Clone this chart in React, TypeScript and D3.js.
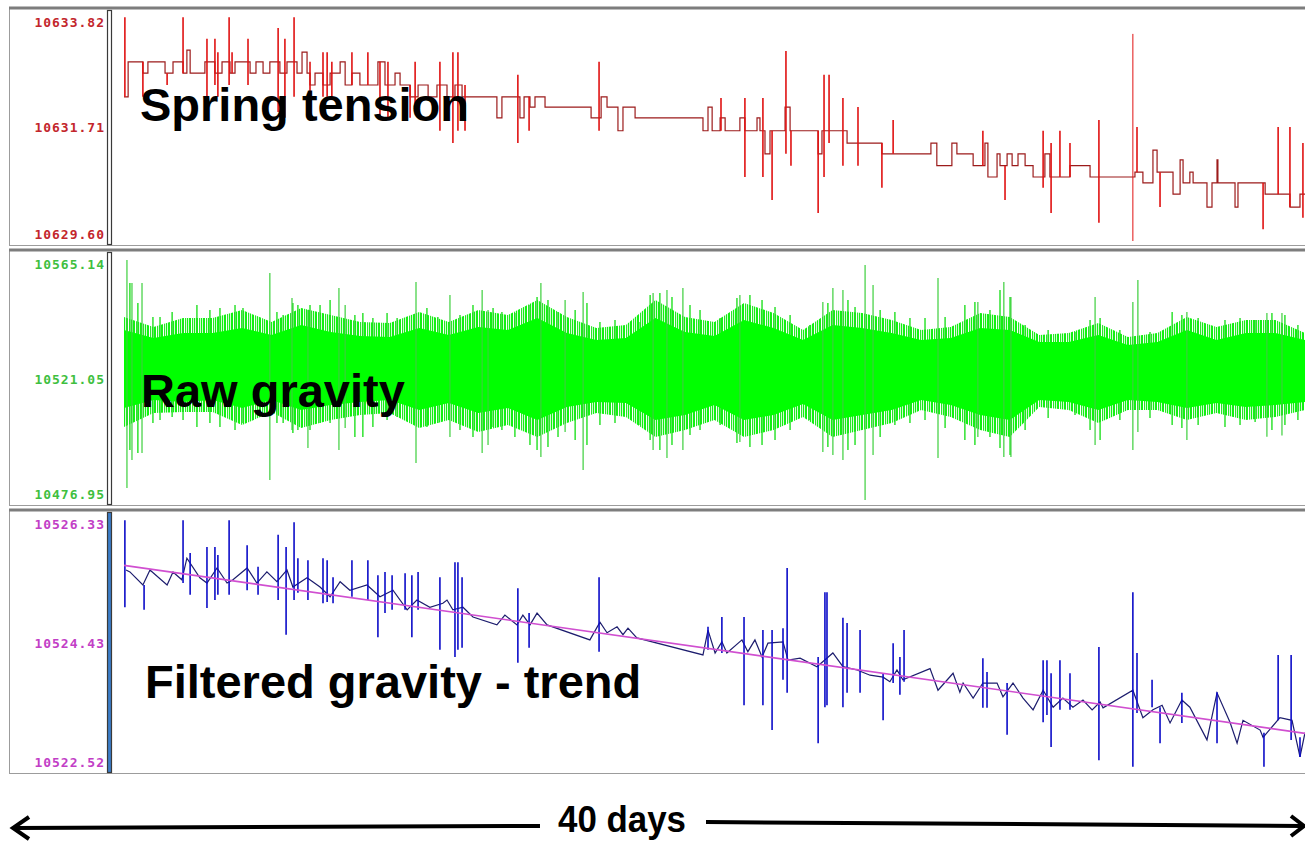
import React from 'react';
import * as d3 from 'd3';

const WIDTH = 1305;
const HEIGHT = 842;

// recording length in days
const dayDomain: [number, number] = [0, 40];

// axis labels of each strip: bottom, middle, top
const tensionTicks = [10629.60, 10631.71, 10633.82];
const rawTicks = [10476.95, 10521.05, 10565.14];
const filteredTicks = [10522.52, 10524.43, 10526.33];

// spring tension: [day, value] held until the next entry
const tensionSteps: [number, number][] = [
  [0.00, 10632.28], [0.14, 10632.93], [0.64, 10632.72], [0.81, 10632.93], [1.39, 10632.72],
  [1.66, 10632.93], [2.00, 10632.72], [2.13, 10633.15], [2.24, 10632.72], [2.74, 10632.93],
  [3.08, 10632.72], [3.32, 10632.93], [3.59, 10632.72], [3.76, 10632.93], [4.27, 10632.72],
  [4.47, 10632.93], [4.71, 10632.72], [4.94, 10632.93], [5.28, 10632.72], [5.52, 10632.93],
  [5.86, 10632.72], [6.03, 10633.11], [6.20, 10632.72], [6.30, 10632.50], [6.47, 10632.72],
  [6.74, 10632.50], [6.98, 10632.72], [7.32, 10632.93], [7.49, 10632.50], [7.72, 10632.72],
  [7.99, 10632.50], [8.60, 10632.93], [8.84, 10632.50], [9.18, 10632.72], [9.35, 10632.50],
  [9.69, 10632.28], [9.96, 10632.50], [10.30, 10632.28], [10.60, 10632.50], [10.94, 10632.28],
  [11.21, 10632.50], [11.45, 10632.28], [12.63, 10631.89], [12.80, 10632.28], [13.41, 10631.89],
  [13.55, 10632.28], [13.75, 10632.09], [13.92, 10632.28], [14.26, 10632.09], [15.82, 10631.89],
  [16.16, 10632.28], [16.36, 10632.09], [16.73, 10631.65], [16.90, 10632.09], [17.31, 10631.89],
  [19.61, 10631.65], [19.78, 10632.09], [19.92, 10631.65], [20.19, 10631.89], [20.36, 10631.65],
  [20.86, 10631.89], [21.03, 10631.65], [21.44, 10631.89], [21.54, 10631.65], [21.71, 10631.22],
  [21.88, 10631.65], [22.39, 10632.09], [22.56, 10631.65], [23.51, 10631.22], [23.64, 10631.65],
  [24.49, 10631.42], [25.67, 10631.22], [27.33, 10631.42], [27.53, 10631.00], [28.04, 10631.42],
  [28.21, 10631.22], [28.76, 10631.00], [29.16, 10631.42], [29.26, 10630.79], [29.57, 10631.22],
  [29.67, 10631.00], [29.91, 10631.22], [30.08, 10631.00], [30.28, 10631.22], [30.52, 10631.00],
  [30.79, 10630.79], [31.19, 10631.22], [31.36, 10630.79], [32.04, 10631.00], [32.72, 10630.79],
  [34.24, 10630.88], [34.51, 10630.68], [34.85, 10631.29], [34.99, 10630.88], [35.53, 10630.47],
  [35.77, 10631.11], [35.87, 10630.68], [36.10, 10630.88], [36.21, 10630.68], [36.68, 10630.23],
  [36.85, 10630.68], [37.02, 10631.11], [37.05, 10630.68], [37.63, 10630.23], [37.73, 10630.68],
  [38.65, 10630.47], [39.49, 10630.23], [39.83, 10630.47], [40.00, 10630.47],
];

// spring tension single-sample spikes: [day, high, low]
const tensionSpikes: [number, number, number][] = [
  [0.03, 10633.76, 10632.28], [0.64, 10632.93, 10632.28], [1.46, 10632.72, 10632.50],
  [2.00, 10633.76, 10632.72], [2.81, 10633.36, 10632.09], [3.08, 10633.36, 10632.50],
  [3.18, 10633.11, 10632.28], [3.56, 10633.76, 10632.50], [3.66, 10633.11, 10632.72],
  [4.20, 10633.36, 10632.50], [5.22, 10633.56, 10632.00], [5.45, 10633.36, 10631.89],
  [5.76, 10633.76, 10632.28], [6.30, 10632.93, 10632.28], [6.74, 10633.11, 10632.28],
  [6.88, 10633.11, 10632.28], [7.04, 10632.93, 10632.28], [7.72, 10633.11, 10632.50],
  [8.26, 10633.11, 10632.50], [8.67, 10632.93, 10631.89], [8.94, 10632.93, 10631.89],
  [9.69, 10632.50, 10631.89], [9.86, 10632.93, 10632.09], [10.70, 10632.93, 10631.65],
  [11.14, 10633.11, 10631.42], [11.31, 10633.11, 10631.65], [11.55, 10632.50, 10631.65],
  [13.34, 10632.69, 10631.42], [13.72, 10632.28, 10631.65], [16.09, 10632.93, 10631.65],
  [20.22, 10632.26, 10631.65], [21.03, 10632.26, 10630.79], [21.64, 10632.26, 10630.79],
  [21.95, 10631.65, 10630.36], [22.42, 10633.13, 10631.22], [22.59, 10631.65, 10631.00],
  [23.51, 10631.65, 10630.12], [23.71, 10632.69, 10630.79], [23.88, 10632.69, 10631.42],
  [24.35, 10632.26, 10631.00], [24.86, 10632.09, 10631.00], [25.67, 10631.42, 10630.59],
  [26.05, 10631.85, 10631.22], [29.09, 10631.65, 10631.00], [29.84, 10631.00, 10630.36],
  [31.13, 10631.65, 10630.59], [31.40, 10631.42, 10630.12], [31.70, 10631.65, 10630.79],
  [32.04, 10631.42, 10630.79], [33.02, 10631.85, 10629.94], [34.17, 10633.45, 10629.60],
  [34.31, 10631.72, 10630.88], [35.09, 10630.88, 10630.23], [38.58, 10630.68, 10629.82],
  [39.09, 10631.72, 10630.47], [39.49, 10631.72, 10630.23], [39.93, 10631.42, 10630.03],
];

// raw gravity, read once per day: outer envelope and dense core
const rawDays = [
  0, 1, 2, 3, 4, 5, 6, 7, 8, 9, 10, 11, 12, 13, 14, 15, 16, 17, 18, 19, 20,
  21, 22, 23, 24, 25, 26, 27, 28, 29, 30, 31, 32, 33, 34, 35, 36, 37, 38, 39, 40,
];
const rawEnvTop = [
  10543.64, 10539.99, 10543.27, 10543.27, 10546.19, 10541.82, 10546.92, 10544.37, 10541.82, 10541.45,
  10545.46, 10541.82, 10546.19, 10544.37, 10549.83, 10543.64, 10539.63, 10540.72, 10549.83, 10543.64,
  10541.82, 10548.74, 10545.10, 10538.90, 10546.19, 10545.10, 10542.55, 10538.90, 10539.99, 10545.10,
  10543.64, 10537.08, 10537.81, 10541.45, 10536.35, 10537.81, 10543.64, 10539.99, 10542.55, 10542.55,
  10537.81,
];
const rawEnvBottom = [
  10503.55, 10508.65, 10509.02, 10509.02, 10504.28, 10509.02, 10503.19, 10506.10, 10507.93, 10508.65,
  10503.19, 10506.10, 10501.73, 10504.28, 10499.91, 10505.01, 10508.65, 10507.20, 10499.91, 10502.46,
  10506.10, 10499.91, 10502.46, 10507.20, 10499.91, 10502.46, 10505.01, 10509.75, 10507.20, 10502.46,
  10499.91, 10510.84, 10509.75, 10505.01, 10509.75, 10509.75, 10506.10, 10508.65, 10506.10, 10507.20,
  10509.75,
];
const rawCoreTop = [
  10538.90, 10535.99, 10537.81, 10537.81, 10539.63, 10537.08, 10540.72, 10538.17, 10536.71, 10536.35,
  10539.63, 10537.08, 10539.99, 10538.90, 10543.27, 10537.81, 10535.26, 10535.99, 10543.27, 10538.17,
  10536.71, 10542.55, 10539.63, 10535.26, 10540.72, 10539.63, 10537.81, 10535.26, 10535.99, 10539.63,
  10538.90, 10534.53, 10534.53, 10537.08, 10533.44, 10534.53, 10538.90, 10535.26, 10537.81, 10537.81,
  10535.26,
];
const rawCoreBottom = [
  10510.48, 10513.39, 10512.66, 10513.39, 10510.48, 10513.39, 10509.75, 10511.57, 10512.66, 10513.39,
  10509.75, 10512.30, 10508.65, 10510.48, 10506.10, 10510.84, 10512.66, 10512.30, 10506.10, 10507.93,
  10511.57, 10506.10, 10507.93, 10511.93, 10506.10, 10507.93, 10509.75, 10513.39, 10511.57, 10507.93,
  10506.10, 10513.39, 10512.66, 10509.75, 10513.39, 10512.66, 10510.48, 10512.30, 10510.84, 10511.57,
  10512.66,
];
// raw gravity outliers: [day, high, low]
const rawSpikes: [number, number, number][] = [
  [0.10, 10564.41, 10481.32], [0.27, 10556.03, 10491.53], [0.61, 10556.03, 10494.08],
  [4.94, 10559.67, 10484.24], [5.69, 10550.56, 10502.46], [6.23, 10546.19, 10495.90],
  [7.28, 10554.21, 10495.17], [7.49, 10548.01, 10503.19], [9.89, 10556.39, 10490.43],
  [11.04, 10551.66, 10499.91], [12.13, 10553.48, 10494.08], [12.33, 10546.19, 10496.99],
  [14.12, 10556.03, 10492.62], [14.94, 10549.83, 10501.73], [15.55, 10552.75, 10487.88],
  [17.92, 10552.38, 10495.17], [18.39, 10553.48, 10492.26], [18.93, 10554.21, 10495.17],
  [20.86, 10551.66, 10498.09], [23.67, 10549.11, 10494.44], [24.01, 10554.21, 10493.35],
  [24.35, 10553.48, 10491.53], [25.10, 10562.59, 10476.95], [25.37, 10555.30, 10493.35],
  [27.57, 10557.85, 10492.26], [28.92, 10549.11, 10499.91], [29.80, 10556.39, 10492.62],
  [30.04, 10550.93, 10492.62], [32.89, 10550.93, 10496.99], [34.17, 10549.11, 10495.17],
  [34.34, 10557.12, 10501.73], [36.00, 10545.46, 10498.82], [38.71, 10545.10, 10500.00],
  [39.22, 10545.10, 10500.50],
];
// shorter excursions along the edge of the raw band: [day, high, low]
const rawHairs: [number, number, number][] = [
  [0.20, 10556.03, 10495.17], [0.47, 10548.74, 10494.08], [0.98, 10543.64, 10505.01],
  [1.22, 10543.64, 10506.10], [1.63, 10545.46, 10507.20], [2.00, 10541.82, 10506.10],
  [2.47, 10548.01, 10503.55], [2.91, 10546.19, 10505.01], [3.25, 10546.92, 10503.55],
  [3.76, 10548.01, 10502.46], [4.03, 10546.92, 10505.01], [4.37, 10539.99, 10508.65],
  [5.18, 10545.46, 10505.01], [5.39, 10544.37, 10505.01], [5.72, 10548.74, 10501.37],
  [5.89, 10548.01, 10502.46], [6.30, 10548.01, 10502.46], [6.64, 10548.01, 10505.01],
  [6.98, 10549.83, 10505.01], [7.82, 10544.37, 10499.91], [8.09, 10545.10, 10499.91],
  [8.43, 10543.27, 10503.55], [8.91, 10545.10, 10506.10], [9.25, 10543.27, 10507.20],
  [10.26, 10546.92, 10503.55], [10.63, 10543.64, 10505.01], [11.38, 10544.37, 10502.46],
  [11.82, 10548.01, 10499.91], [12.50, 10546.92, 10503.55], [12.80, 10545.46, 10502.46],
  [13.24, 10545.10, 10499.91], [13.75, 10548.01, 10496.99], [13.99, 10550.93, 10495.17],
  [14.36, 10549.83, 10496.26], [14.70, 10545.46, 10499.91], [15.28, 10546.19, 10498.82],
  [15.68, 10548.74, 10496.99], [16.12, 10541.82, 10504.28], [16.63, 10542.55, 10505.01],
  [17.48, 10541.82, 10504.28], [17.82, 10551.66, 10498.82], [18.15, 10552.38, 10495.17],
  [18.56, 10550.93, 10496.99], [19.17, 10548.01, 10500.64], [19.51, 10546.19, 10502.46],
  [20.19, 10543.27, 10504.28], [20.76, 10550.56, 10497.72], [21.20, 10551.66, 10496.26],
  [21.61, 10549.83, 10496.99], [22.05, 10547.28, 10498.82], [22.56, 10544.37, 10502.46],
  [23.23, 10540.72, 10506.10], [23.84, 10548.74, 10496.26], [24.52, 10549.83, 10495.17],
  [24.76, 10547.28, 10496.99], [25.61, 10546.19, 10499.91], [26.11, 10545.46, 10504.28],
  [26.62, 10543.27, 10505.01], [27.13, 10543.27, 10506.10], [27.81, 10543.64, 10503.19],
  [28.48, 10548.01, 10498.82], [28.82, 10549.11, 10496.99], [29.33, 10546.19, 10499.91],
  [29.67, 10553.48, 10495.90], [30.01, 10550.93, 10493.35], [30.52, 10540.72, 10502.46],
  [31.30, 10538.90, 10506.83], [32.21, 10538.17, 10507.93], [32.72, 10542.55, 10502.46],
  [33.06, 10543.27, 10498.82], [33.73, 10538.90, 10506.10], [34.75, 10538.17, 10506.83],
  [35.50, 10545.46, 10504.28], [35.83, 10544.37, 10503.19], [36.38, 10543.27, 10504.28],
  [37.29, 10542.55, 10503.55], [37.80, 10543.27, 10504.28], [38.31, 10542.55, 10505.37],
  [38.88, 10545.10, 10502.46], [39.32, 10544.37, 10504.28], [39.76, 10540.72, 10506.10],
];

// filtered gravity: [day, value]
const filteredPoints: [number, number][] = [
  [0.07, 10525.55], [0.20, 10525.52], [0.64, 10525.32], [0.88, 10525.55], [1.46, 10525.32],
  [1.66, 10525.52], [1.96, 10525.40], [2.13, 10525.73], [2.57, 10525.43], [2.81, 10525.35],
  [3.15, 10525.58], [3.49, 10525.35], [3.69, 10525.40], [4.17, 10525.58], [4.50, 10525.35],
  [4.84, 10525.52], [5.18, 10525.37], [5.52, 10525.55], [5.72, 10525.29], [6.20, 10525.43],
  [6.64, 10525.29], [6.98, 10525.14], [7.32, 10525.37], [7.65, 10525.24], [8.23, 10525.32],
  [8.67, 10525.14], [9.11, 10525.24], [9.59, 10524.94], [9.92, 10525.09], [10.36, 10524.98],
  [10.80, 10525.04], [10.94, 10525.09], [11.14, 10524.94], [11.48, 10524.98], [11.82, 10524.83],
  [12.63, 10524.71], [12.90, 10524.86], [13.31, 10524.71], [13.51, 10524.86], [13.75, 10524.71],
  [13.99, 10524.89], [14.33, 10524.71], [15.78, 10524.48], [16.12, 10524.75], [16.36, 10524.59],
  [16.70, 10524.68], [16.90, 10524.56], [17.07, 10524.66], [17.37, 10524.51], [19.61, 10524.25],
  [19.78, 10524.63], [20.02, 10524.28], [20.25, 10524.45], [20.42, 10524.28], [20.93, 10524.48],
  [21.13, 10524.30], [21.37, 10524.48], [21.61, 10524.22], [21.81, 10524.43], [22.32, 10524.45],
  [22.49, 10524.17], [22.90, 10524.20], [23.47, 10524.07], [24.01, 10524.28], [24.35, 10524.07],
  [24.83, 10524.02], [25.27, 10523.94], [25.71, 10523.91], [25.94, 10523.84], [26.18, 10524.02],
  [26.38, 10523.87], [27.30, 10524.04], [27.57, 10523.71], [28.08, 10523.97], [28.31, 10523.68],
  [28.42, 10523.82], [28.76, 10523.59], [29.09, 10523.82], [29.57, 10523.82], [29.77, 10523.61],
  [30.11, 10523.82], [30.45, 10523.59], [30.79, 10523.41], [31.13, 10523.71], [31.47, 10523.45],
  [31.80, 10523.59], [32.14, 10523.45], [32.48, 10523.56], [32.79, 10523.41], [33.06, 10523.53],
  [33.16, 10523.44], [34.17, 10523.71], [34.51, 10523.29], [34.85, 10523.41], [35.16, 10523.48],
  [35.43, 10523.21], [35.83, 10523.56], [36.10, 10523.45], [36.68, 10522.95], [37.02, 10523.67],
  [37.46, 10523.22], [37.70, 10522.90], [37.90, 10523.25], [38.48, 10523.10], [38.58, 10522.99],
  [39.15, 10523.29], [39.56, 10523.25], [39.83, 10522.69], [40.00, 10523.06],
];
// filtered gravity spikes: [day, high, low]
const filteredSpikes: [number, number, number][] = [
  [0.03, 10526.31, 10524.98], [0.68, 10525.32, 10524.94], [2.00, 10526.31, 10525.35],
  [2.24, 10525.81, 10525.17], [2.81, 10525.90, 10524.97], [3.08, 10525.90, 10525.09],
  [3.18, 10525.78, 10525.17], [3.56, 10526.31, 10525.17], [4.17, 10525.93, 10525.24],
  [4.54, 10525.60, 10525.17], [5.22, 10526.09, 10525.09], [5.49, 10525.90, 10524.56],
  [5.76, 10526.28, 10525.09], [5.89, 10525.73, 10525.20], [6.23, 10525.70, 10525.09],
  [6.74, 10525.73, 10525.04], [6.88, 10525.70, 10525.06], [7.08, 10525.44, 10525.04],
  [7.72, 10525.70, 10525.14], [8.26, 10525.70, 10525.09], [8.60, 10525.47, 10524.52],
  [8.84, 10525.52, 10524.89], [9.08, 10525.47, 10524.94], [9.52, 10525.50, 10524.94],
  [9.75, 10525.47, 10524.52], [9.96, 10525.52, 10524.94], [10.70, 10525.44, 10524.33],
  [11.21, 10525.67, 10524.22], [11.31, 10525.67, 10524.33], [11.45, 10525.44, 10524.36],
  [13.34, 10525.27, 10524.13], [13.72, 10524.89, 10524.36], [16.09, 10525.44, 10524.30],
  [19.78, 10524.68, 10524.33], [20.25, 10524.83, 10524.28], [21.00, 10524.83, 10523.48],
  [21.64, 10524.63, 10523.48], [21.95, 10524.63, 10523.10], [22.32, 10524.66, 10523.87],
  [22.46, 10525.58, 10523.67], [23.51, 10524.22, 10522.90], [23.74, 10525.21, 10523.45],
  [23.81, 10525.21, 10523.48], [24.35, 10524.82, 10523.45], [24.49, 10524.74, 10523.67],
  [24.93, 10524.63, 10523.67], [25.71, 10523.97, 10523.25], [26.05, 10524.43, 10523.82],
  [26.28, 10524.22, 10523.64], [26.42, 10524.63, 10523.84], [29.09, 10524.20, 10523.44],
  [29.23, 10523.99, 10523.44], [29.91, 10523.82, 10523.03], [31.13, 10524.17, 10523.22],
  [31.26, 10524.17, 10523.33], [31.40, 10523.97, 10522.84], [31.70, 10524.17, 10523.41],
  [32.04, 10523.97, 10523.41], [33.02, 10524.37, 10522.64], [34.17, 10525.21, 10522.54],
  [34.31, 10524.28, 10523.36], [34.82, 10523.87, 10523.45], [35.09, 10523.45, 10522.90],
  [35.83, 10523.67, 10523.21], [37.02, 10523.68, 10522.90], [38.61, 10523.06, 10522.54],
  [39.09, 10524.25, 10523.25], [39.53, 10524.25, 10522.95], [39.83, 10522.99, 10522.69],
];
// linear trend of the filtered gravity: [day, value]
const trendPoints: [number, number][] = [[0, 10525.62], [40, 10523.05]];

const x = d3.scaleLinear().domain(dayDomain).range([124, 1305]);
const tensionY = d3.scaleLinear().domain([tensionTicks[0], tensionTicks[2]]).range([241, 14]);
const rawY = d3.scaleLinear().domain([rawTicks[0], rawTicks[2]]).range([500, 258]);
const filteredY = d3.scaleLinear().domain([filteredTicks[0], filteredTicks[2]]).range([768, 519]);

const panels = [
  { id: 'tension', top: 8, bottom: 245, ticks: tensionTicks, y: tensionY, color: '#c3262c', bar: '#ffffff' },
  { id: 'raw', top: 250, bottom: 505, ticks: rawTicks, y: rawY, color: '#3fbf3f', bar: '#ffffff' },
  { id: 'filtered', top: 510, bottom: 773, ticks: filteredTicks, y: filteredY, color: '#c23ec6', bar: '#3b7dc8' },
];

function Frame({ p }: { p: any }) {
  return (
    <g>
      <rect x={9.5} y={p.top + 0.5} width={1310} height={p.bottom - p.top} fill="#fff" stroke="#9c9c9c" />
      <line x1={9} x2={1305} y1={p.top} y2={p.top} stroke="#7d7d7d" strokeWidth={3} />
      <rect x={107.5} y={p.top + 2.5} width={4} height={p.bottom - p.top - 3} fill={p.bar} stroke="#3a3a3a" strokeWidth={1.2} />
      {p.ticks.map((t: number) => {
        const ty = Math.max(p.top + 14, Math.min(p.bottom - 11, p.y(t)));
        return (
          <text key={t} x={105} y={ty} dy="0.35em" textAnchor="end" fill={p.color}
            fontFamily='"DejaVu Sans Mono", monospace' fontWeight="bold" fontSize={13} letterSpacing={1}>
            {t.toFixed(2)}
          </text>
        );
      })}
    </g>
  );
}

export default function App() {
  const stepLine = d3.line<[number, number]>()
    .x(d => x(d[0])).y(d => tensionY(d[1])).curve(d3.curveStepAfter);
  const filteredLine = d3.line<[number, number]>().x(d => x(d[0])).y(d => filteredY(d[1]));
  const trendLine = d3.line<[number, number]>().x(d => x(d[0])).y(d => filteredY(d[1]));
  const envArea = d3.area<number>()
    .x(d => x(d)).y0((d, i) => rawY(rawEnvBottom[i])).y1((d, i) => rawY(rawEnvTop[i]));
  const coreArea = d3.area<number>()
    .x(d => x(d)).y0((d, i) => rawY(rawCoreBottom[i])).y1((d, i) => rawY(rawCoreTop[i]));

  const bigLabel = {
    fontFamily: '"Liberation Sans", Arial, sans-serif',
    fontWeight: 'bold' as const,
    fontSize: 47,
    fill: '#000',
  };

  return (
    <svg width={WIDTH} height={HEIGHT} style={{ position: 'absolute', left: 0, top: 0, background: '#fff' }}>
      <defs>
        {panels.map(p => (
          <clipPath key={p.id} id={`clip-${p.id}`}>
            <rect x={112} y={p.top + 2} width={WIDTH - 112} height={p.bottom - p.top - 2} />
          </clipPath>
        ))}
        <pattern id="hair" width={7} height={4} patternUnits="userSpaceOnUse">
          <rect x={0} width={2} height={4} fill="#12f012" />
          <rect x={3} width={1} height={4} fill="#2ee02e" />
          <rect x={4.8} width={1.4} height={4} fill="#12f012" />
        </pattern>
      </defs>

      {panels.map(p => <Frame key={p.id} p={p} />)}

      <g clipPath="url(#clip-tension)">
        <path d={stepLine(tensionSteps) || ''} fill="none" stroke="#9c1b1b" strokeWidth={1.2} />
        {tensionSpikes.map(s => (
          <line key={`t${s[0]}`} x1={x(s[0])} x2={x(s[0])} y1={tensionY(s[1])} y2={tensionY(s[2])}
            stroke="#e01212" strokeWidth={s[2] <= tensionTicks[0] ? 1 : 1.6} />
        ))}
      </g>

      <g clipPath="url(#clip-raw)">
        <path d={envArea(rawDays) || ''} fill="url(#hair)" />
        {rawHairs.map(s => (
          <line key={`h${s[0]}`} x1={x(s[0])} x2={x(s[0])} y1={rawY(s[1])} y2={rawY(s[2])}
            stroke="#20e020" strokeWidth={1.4} />
        ))}
        <path d={coreArea(rawDays) || ''} fill="#00ff00" />
        {rawSpikes.map(s => (
          <line key={`r${s[0]}`} x1={x(s[0])} x2={x(s[0])} y1={rawY(s[1])} y2={rawY(s[2])}
            stroke="#3ccf3c" strokeWidth={1.2} />
        ))}
      </g>

      <g clipPath="url(#clip-filtered)">
        <path d={filteredLine(filteredPoints) || ''} fill="none" stroke="#1d1d6e" strokeWidth={1.2} />
        {filteredSpikes.map(s => (
          <line key={`f${s[0]}`} x1={x(s[0])} x2={x(s[0])} y1={filteredY(s[1])} y2={filteredY(s[2])}
            stroke="#0c0cc8" strokeWidth={1.6} />
        ))}
        <path d={trendLine(trendPoints) || ''} fill="none" stroke="#d04fd0" strokeWidth={1.6} />
      </g>

      <text x={140} y={121} style={bigLabel}>Spring tension</text>
      <text x={141} y={407} style={bigLabel}>Raw gravity</text>
      <text x={145} y={698} style={bigLabel}>Filtered gravity - trend</text>

      <g stroke="#000" strokeWidth={4} fill="none">
        <line x1={14} y1={828} x2={540} y2={826} />
        <polyline points="29,817 13,828 29,839" />
        <line x1={706} y1={822} x2={1302} y2={826} />
        <polyline points="1291,816 1304,826 1291,836" />
      </g>
      <text x={622} y={832} textAnchor="middle" textLength={128} lengthAdjust="spacingAndGlyphs"
        style={{ ...bigLabel, fontSize: 36 }}>40 days</text>
    </svg>
  );
}
